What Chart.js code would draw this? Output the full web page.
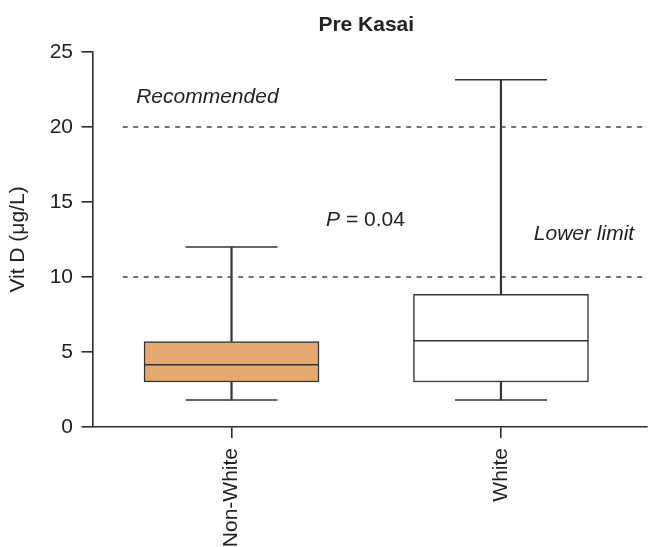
<!DOCTYPE html>
<html><head><meta charset="utf-8">
<script src="https://cdn.jsdelivr.net/npm/chart.js@4.4.1/dist/chart.umd.min.js"></script>
<style>html,body{margin:0;padding:0;background:#fff;} canvas{display:block;}</style>
</head><body>
<canvas id="c" width="649" height="547"></canvas>
<script>
// ---- data ----
const categories = ['Non-White', 'White'];
const whiskerLow = [1.8, 1.8];
const q1 = [3.0, 3.0];
const median = [4.15, 5.75];
const q3 = [5.7, 8.85];
const whiskerHigh = [12.0, 23.15];
const refLines = [10, 20];
const yTicks = [0, 5, 10, 15, 20, 25];
const chartTitle = 'Pre Kasai';
const yTitle = 'Vit D (μg/L)';
const notes = [
  { text: 'Recommended', x: -0.354, y: 21.6 },
  { text: 'Lower limit', x: 1.122, y: 12.5 }
];
const pNote = { label: 'P', text: ' = 0.04', x: 0.351, y: 13.4 };

// ---- styles ----
const FONT = "'Liberation Sans', Arial, Helvetica, sans-serif";
const INK = '#2b2b2b';
const LINE = '#333333';
const boxFill = ['#E5A96F', '#ffffff'];
const X_MIN = -0.516, X_MAX = 1.542, REF_START = -0.404;

const idx = categories.map((_, i) => i);

const datasets = [
  // whisker stems
  { type: 'bar', order: 3, grouped: false, barThickness: 1.5, backgroundColor: LINE, borderWidth: 0,
    data: idx.map(i => ({ x: i, y: [q3[i], whiskerHigh[i]] })) },
  { type: 'bar', order: 3, grouped: false, barThickness: 1.5, backgroundColor: LINE, borderWidth: 0,
    data: idx.map(i => ({ x: i, y: [whiskerLow[i], q1[i]] })) },
  // boxes
  { type: 'bar', order: 4, grouped: false, barThickness: 175, backgroundColor: boxFill,
    borderColor: LINE, borderWidth: 1.5, borderSkipped: false,
    data: idx.map(i => ({ x: i, y: [q1[i], q3[i]] })) },
  // medians
  { type: 'scatter', order: 1, pointStyle: 'line', pointRadius: 87.5, pointBorderWidth: 1.5,
    pointBorderColor: LINE, pointHoverRadius: 87.5, showLine: false,
    data: idx.map(i => ({ x: i, y: median[i] })) },
  // whisker caps
  { type: 'scatter', order: 1, pointStyle: 'line', pointRadius: 46, pointBorderWidth: 1.5,
    pointBorderColor: LINE, pointHoverRadius: 46, showLine: false,
    data: idx.flatMap(i => [{ x: i, y: whiskerHigh[i] }, { x: i, y: whiskerLow[i] }]) },
  // reference lines
  ...refLines.map(v => ({
    type: 'line', order: 2, borderColor: '#444', borderWidth: 1.5, borderDash: [5, 5.5],
    pointRadius: 0, data: [{ x: REF_START, y: v }, { x: X_MAX, y: v }]
  }))
];

const annot = {
  id: 'annot',
  afterDatasetsDraw(chart) {
    const { ctx, scales: { x, y } } = chart;
    ctx.save();
    ctx.fillStyle = '#222';
    ctx.textBaseline = 'alphabetic';
    // title
    ctx.font = `bold 21px ${FONT}`;
    ctx.textAlign = 'center';
    ctx.fillText(chartTitle, x.getPixelForValue(0.5), 31);
    // notes
    ctx.textAlign = 'left';
    ctx.font = `italic 21px ${FONT}`;
    notes.forEach(n => ctx.fillText(n.text, x.getPixelForValue(n.x), y.getPixelForValue(n.y)));
    const px = x.getPixelForValue(pNote.x), py = y.getPixelForValue(pNote.y);
    ctx.fillText(pNote.label, px, py);
    const w = ctx.measureText(pNote.label).width;
    ctx.font = `21px ${FONT}`;
    ctx.fillText(pNote.text, px + w, py);
    ctx.restore();
  }
};

const yGrid = { display: true, drawOnChartArea: false, drawTicks: true, tickLength: 11, color: INK, lineWidth: 1.6, offset: false };
const xGrid = { display: true, drawOnChartArea: false, drawTicks: true, tickLength: 11, color: INK, lineWidth: 1.6, offset: false };
const axisBorder = { display: true, color: INK, width: 1.6 };

new Chart(document.getElementById('c'), {
  type: 'bar',
  data: { datasets },
  options: {
    responsive: false,
    animation: false,
    events: [],
    layout: { autoPadding: false, padding: { top: 52, left: 0, right: 2, bottom: 0 } },
    plugins: { legend: { display: false }, tooltip: { enabled: false }, title: { display: false } },
    scales: {
      x: {
        type: 'linear', min: X_MIN, max: X_MAX, offset: false,
        grid: xGrid, border: axisBorder,
        afterBuildTicks: s => { s.ticks = idx.map(i => ({ value: i })); },
        afterFit: s => { s.height = 120; },
        ticks: {
          autoSkip: false, minRotation: 90, maxRotation: 90, padding: 10,
          color: '#222', font: { family: FONT, size: 21 },
          callback: v => categories[v] ?? ''
        }
      },
      y: {
        type: 'linear', min: 0, max: 25,
        grid: yGrid, border: axisBorder,
        afterBuildTicks: s => { s.ticks = yTicks.map(v => ({ value: v })); },
        afterFit: s => { s.width = 92.5; },
        ticks: { padding: 8.5, color: '#222', font: { family: FONT, size: 21 } },
        title: { display: true, text: yTitle, color: '#222', font: { family: FONT, size: 21 }, padding: { top: 6, bottom: 0 } }
      }
    }
  },
  plugins: [annot]
});
</script>
</body></html>
